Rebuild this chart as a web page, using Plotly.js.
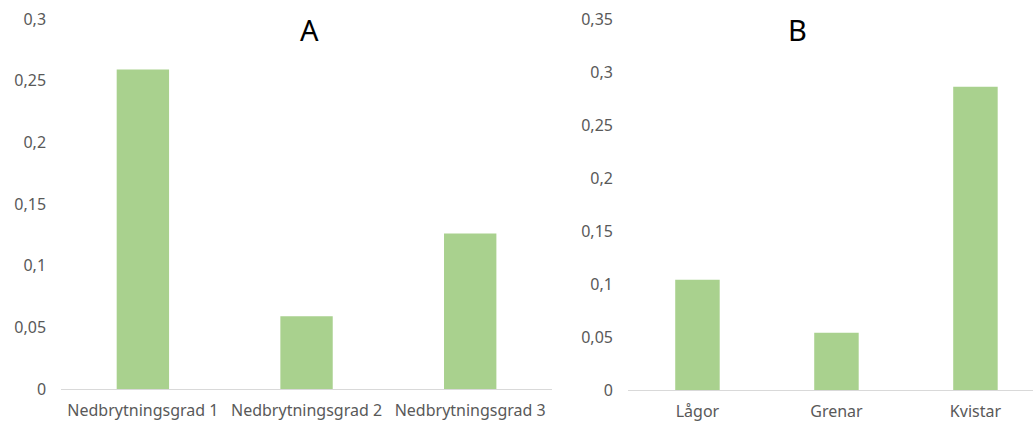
<!DOCTYPE html>
<html>
<head>
<meta charset="utf-8">
<script src="https://cdn.plot.ly/plotly-3.0.1.min.js"></script>
<style>html,body{margin:0;padding:0;background:#fff;}#chart{width:1033px;height:423px;}</style>
</head>
<body>
<div id="chart"></div>
<script>
const categoriesA = ["Nedbrytningsgrad 1", "Nedbrytningsgrad 2", "Nedbrytningsgrad 3"];
const valuesA = [0.259, 0.059, 0.126];
const categoriesB = ["Lågor", "Grenar", "Kvistar"];
const valuesB = [0.104, 0.054, 0.286];
const tickValsA = [0, 0.05, 0.1, 0.15, 0.2, 0.25, 0.3];
const tickTextA = ["0", "0,05", "0,1", "0,15", "0,2", "0,25", "0,3"];
const tickValsB = [0, 0.05, 0.1, 0.15, 0.2, 0.25, 0.3, 0.35];
const tickTextB = ["0", "0,05", "0,1", "0,15", "0,2", "0,25", "0,3", "0,35"];
const titleA = "A";
const titleB = "B";

const barColor = "#a9d18e";
const tickFont = {family: "Noto Sans, Open Sans, sans-serif", size: 16, color: "#595959"};

const traces = [
  {type: "bar", x: categoriesA, y: valuesA, xaxis: "x", yaxis: "y", marker: {color: barColor}, hoverinfo: "x+y"},
  {type: "bar", x: categoriesB, y: valuesB, xaxis: "x2", yaxis: "y2", marker: {color: barColor}, hoverinfo: "x+y"}
];

const baseX = {
  showgrid: false, zeroline: false, showline: true, linecolor: "#d9d9d9", linewidth: 1,
  ticks: "", tickfont: tickFont, ticklabelstandoff: 7, fixedrange: true
};
const baseY = {
  showgrid: false, zeroline: false, showline: false, ticks: "",
  tickfont: tickFont, ticklabelstandoff: 14, fixedrange: true
};

const layout = {
  width: 1033, height: 423,
  margin: {l: 0, r: 0, t: 0, b: 0},
  paper_bgcolor: "#ffffff", plot_bgcolor: "#ffffff",
  showlegend: false,
  bargap: 0.68,
  xaxis: Object.assign({}, baseX, {domain: [0.0591, 0.5344], anchor: "y", range: [-0.5, 2.5]}),
  yaxis: Object.assign({}, baseY, {domain: [0.0804, 0.9551], anchor: "x", range: [0, 0.3], tickvals: tickValsA, ticktext: tickTextA}),
  xaxis2: Object.assign({}, baseX, {domain: [0.6079, 1], anchor: "y2", range: [-0.5, 2.414]}),
  yaxis2: Object.assign({}, baseY, {domain: [0.078, 0.9551], anchor: "x2", range: [0, 0.35], tickvals: tickValsB, ticktext: tickTextB}),
  annotations: [
    {text: titleA, xref: "paper", yref: "paper", x: 309/1033, y: 1 - 30/423, xanchor: "center", yanchor: "middle", showarrow: false,
     font: {family: "Noto Sans, Open Sans, sans-serif", size: 29, color: "#000000"}},
    {text: titleB, xref: "paper", yref: "paper", x: 797/1033, y: 1 - 30/423, xanchor: "center", yanchor: "middle", showarrow: false,
     font: {family: "Noto Sans, Open Sans, sans-serif", size: 29, color: "#000000"}}
  ]
};

Plotly.newPlot("chart", traces, layout, {displayModeBar: false, staticPlot: true});
</script>
</body>
</html>
